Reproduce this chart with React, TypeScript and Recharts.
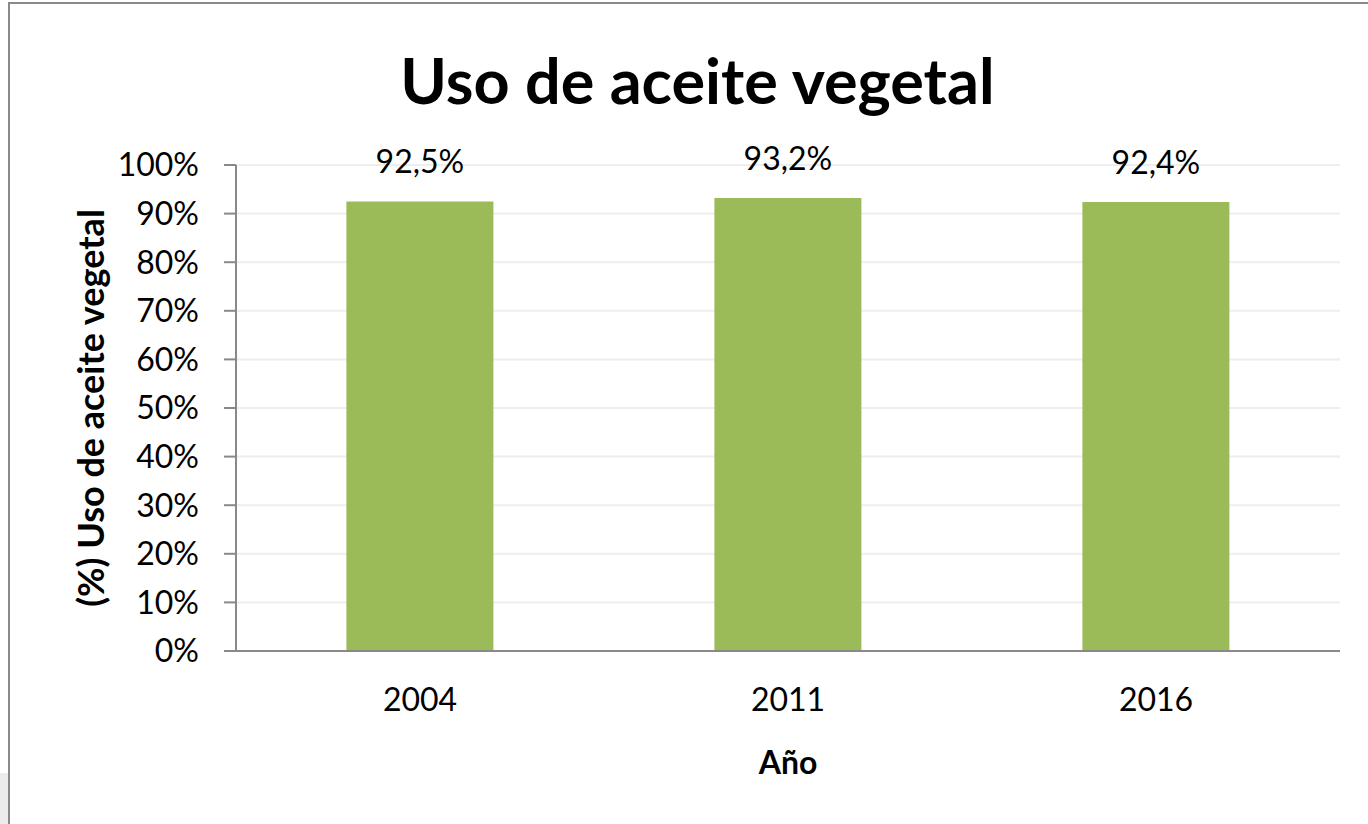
import React from 'react';
import { BarChart, Bar, XAxis, YAxis, CartesianGrid, LabelList } from 'recharts';

const years = ['2004', '2011', '2016'];
const usage = [0.925, 0.932, 0.924];
const yTicks = [0, 0.1, 0.2, 0.3, 0.4, 0.5, 0.6, 0.7, 0.8, 0.9, 1];

const data = years.map((year, i) => ({ year, value: usage[i] }));

const FONT = 'Lato, "Open Sans", sans-serif';
const AXIS_GREY = '#898989';

const pct = (v: number) => `${Math.round(v * 100)}%`;
const pctLabel = (v: any) => `${(Number(v) * 100).toFixed(1).replace('.', ',')}%`;

const YLabel = (props: any) => {
  const vb = props.viewBox || {};
  const cy = (vb.y ?? 0) + (vb.height ?? 0) / 2;
  return (
    <text
      x={90}
      y={cy}
      transform={`rotate(-90, 90, ${cy})`}
      textAnchor="middle"
      dominantBaseline="central"
      fontFamily={FONT}
      fontWeight={700}
      fontSize={36}
      fill="#000"
    >
      (%) Uso de aceite vegetal
    </text>
  );
};

const App: React.FC = () => {
  return (
    <div style={{ position: 'absolute', left: 0, top: 0, width: 1368, height: 824, overflow: 'hidden', background: '#fff' }}>
      <div style={{ position: 'absolute', left: 0, top: 773, width: 8, height: 60, background: '#ececec' }} />
      <div
        style={{
          position: 'absolute',
          left: 8,
          top: 2,
          width: 1400,
          height: 900,
          border: `2px solid ${AXIS_GREY}`,
          background: '#fff',
        }}
      />
      <div
        style={{
          position: 'absolute',
          left: 0,
          width: 1395,
          top: 38,
          textAlign: 'center',
          fontFamily: FONT,
          fontWeight: 700,
          fontSize: 63,
          lineHeight: '84px',
          color: '#000',
        }}
      >
        Uso de aceite vegetal
      </div>
      <div style={{ position: 'absolute', left: 0, top: 0 }}>
        <BarChart
          width={1368}
          height={824}
          data={data}
          margin={{ top: 165, right: 28, bottom: 0, left: 0 }}
          barCategoryGap="30%"
        >
          <CartesianGrid vertical={false} stroke="#eeeeee" strokeWidth={2} />
          <XAxis
            dataKey="year"
            height={173}
            axisLine={{ stroke: AXIS_GREY, strokeWidth: 2 }}
            tickLine={false}
            tickSize={0}
            tickMargin={37}
            tick={{ fill: '#000', fontSize: 32, fontFamily: FONT }}
            label={{
              value: 'Año',
              position: 'insideBottom',
              offset: 50,
              fill: '#000',
              fontSize: 32,
              fontWeight: 700,
              fontFamily: FONT,
            }}
          />
          <YAxis
            width={236}
            domain={[0, 1]}
            ticks={yTicks}
            interval={0}
            tickFormatter={pct}
            axisLine={{ stroke: AXIS_GREY, strokeWidth: 2 }}
            tickLine={{ stroke: AXIS_GREY, strokeWidth: 2 }}
            tickSize={12}
            tickMargin={25}
            tick={{ fill: '#000', fontSize: 32, fontFamily: FONT }}
            label={{ content: YLabel }}
          />
          <Bar dataKey="value" fill="#9bbb59" isAnimationActive={false}>
            <LabelList
              dataKey="value"
              position="top"
              offset={28}
              formatter={pctLabel}
              fill="#000"
              fontSize={32}
              fontFamily={FONT}
            />
          </Bar>
        </BarChart>
      </div>
    </div>
  );
};

export default App;
